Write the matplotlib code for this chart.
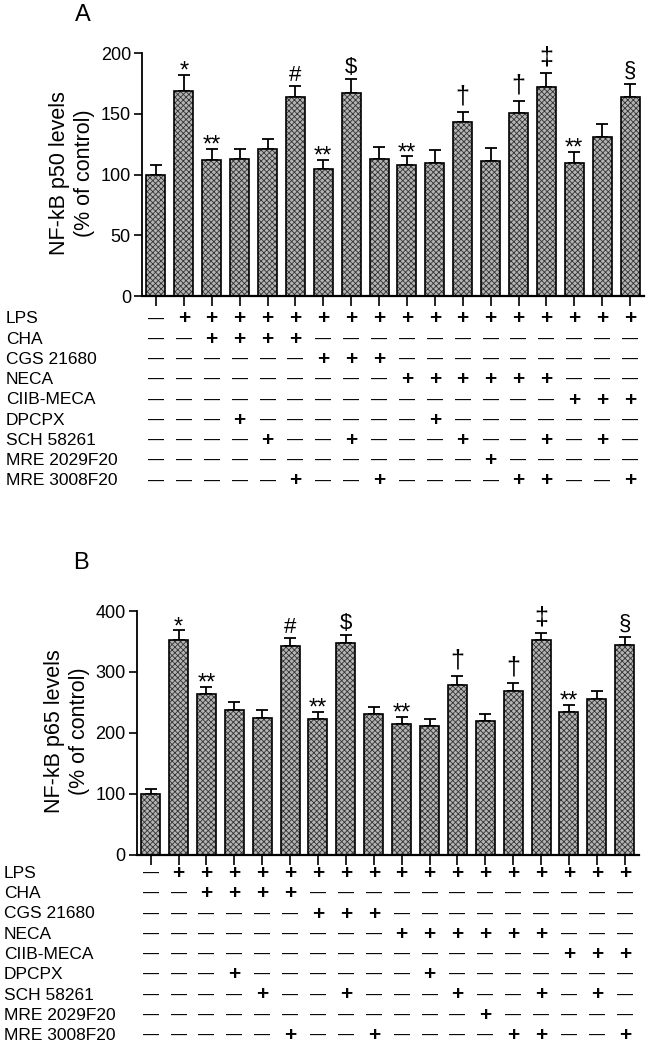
import matplotlib.pyplot as plt
import matplotlib.transforms as mtransforms
import numpy as np

plt.rcParams['font.family'] = ['Liberation Sans', 'DejaVu Sans']
plt.rcParams['hatch.linewidth'] = 0.6

# NF-kB p50 (panel A)
p50_mean = [100, 169, 112, 113, 121, 164, 105, 167, 113, 108, 110, 143, 111, 151, 172, 110, 131, 164]
p50_sem = [8, 13, 9, 8, 8, 9, 7, 12, 10, 7, 10, 9, 11, 10, 12, 9, 11, 11]

# NF-kB p65 (panel B)
p65_mean = [100, 353, 263, 237, 225, 342, 223, 348, 231, 215, 212, 278, 220, 268, 352, 234, 255, 344]
p65_sem = [8, 15, 12, 13, 12, 13, 11, 13, 12, 11, 10, 15, 11, 14, 12, 12, 13, 14]

# significance marks (same in both panels)
marks = ['', '*', '**', '', '', '#', '**', '$', '', '**', '', '†', '', '†', '‡', '**', '', '§']

# treatment table
treatments = ['LPS', 'CHA', 'CGS 21680', 'NECA', 'CIIB-MECA', 'DPCPX',
              'SCH 58261', 'MRE 2029F20', 'MRE 3008F20']
table = ['-+++++++++++++++++',
         '--++++------------',
         '------+++---------',
         '---------++++++---',
         '---------------+++',
         '---+------+-------',
         '----+--+---+--+-+-',
         '------------+-----',
         '-----+--+----++--+']

W, H = 650, 1049
fig = plt.figure(figsize=(W / 100, H / 100), dpi=100)


def panel(rect, means, sems, ymax, ystep, ylabel, letter, letter_xy, ylab_xy, row_y0, label_x):
    ax = fig.add_axes(rect)
    x = np.arange(len(means))
    ax.bar(x, means, width=0.68, color='#b4b4b4', hatch='xxxxxx',
           edgecolor='#333333', linewidth=0, zorder=2)
    ax.bar(x, means, width=0.68, color='none', edgecolor='black', linewidth=1.2, zorder=3)
    ax.errorbar(x, means, yerr=[np.zeros(len(sems)), sems], fmt='none', ecolor='black',
                elinewidth=1.3, capsize=4, capthick=1.3, zorder=1)
    for xi, m, s, t in zip(x, means, sems, marks):
        if not t:
            continue
        if '*' in t:
            dy, fs = -2, 17
        elif t in ('†', '‡'):
            dy, fs = 6, 18
        elif t == '§':
            dy, fs = 5, 16
        else:
            dy, fs = 4, 16
        ax.annotate(t, (xi, m + s), xytext=(0, dy), textcoords='offset points',
                    ha='center', va='baseline', fontsize=fs)
    ax.set_xlim(-0.5, len(means) - 0.5)
    ax.set_ylim(0, ymax)
    ax.set_yticks(np.arange(0, ymax + 1, ystep))
    ax.set_xticks(x)
    ax.set_xticklabels([])
    for s in ['top', 'right']:
        ax.spines[s].set_visible(False)
    ax.spines['left'].set_linewidth(1.3)
    ax.spines['bottom'].set_linewidth(1.6)
    ax.tick_params(axis='y', length=6, width=1.2, labelsize=13, pad=2)
    ax.tick_params(axis='x', length=7, width=1.2)
    fig.text(ylab_xy[0] / W, 1 - ylab_xy[1] / H, ylabel, rotation=90, ha='center',
             va='center', multialignment='center', fontsize=15.5, linespacing=1.25)
    fig.text(letter_xy[0] / W, 1 - letter_xy[1] / H, letter, ha='center', va='center', fontsize=17)

    trans = mtransforms.blended_transform_factory(ax.transData, fig.transFigure)
    for r, (name, row) in enumerate(zip(treatments, table)):
        yy = 1 - (row_y0 + r * 20.25) / H
        fig.text(label_x / W, yy, name, ha='left', va='center', fontsize=12.5)
        for xi, c in zip(x, row):
            if c == '+':
                ax.text(xi, yy, '+', transform=trans, ha='center', va='center',
                        fontsize=15, fontweight='bold', clip_on=False)
            else:
                ax.text(xi, yy, '—', transform=trans, ha='center', va='center',
                        fontsize=11.5, clip_on=False)
    return ax


panel([142 / W, 1 - 296 / H, 502 / W, 242.7 / H], p50_mean, p50_sem, 200, 50,
      'NF-kB p50 levels\n(% of control)', 'A', (83, 15), (72, 173), 319, 6)
panel([136.7 / W, 1 - 854.7 / H, 502 / W, 243.7 / H], p65_mean, p65_sem, 400, 100,
      'NF-kB p65 levels\n(% of control)', 'B', (81, 563), (67, 731), 873.5, 4)

fig.savefig('out.png', dpi=100)
